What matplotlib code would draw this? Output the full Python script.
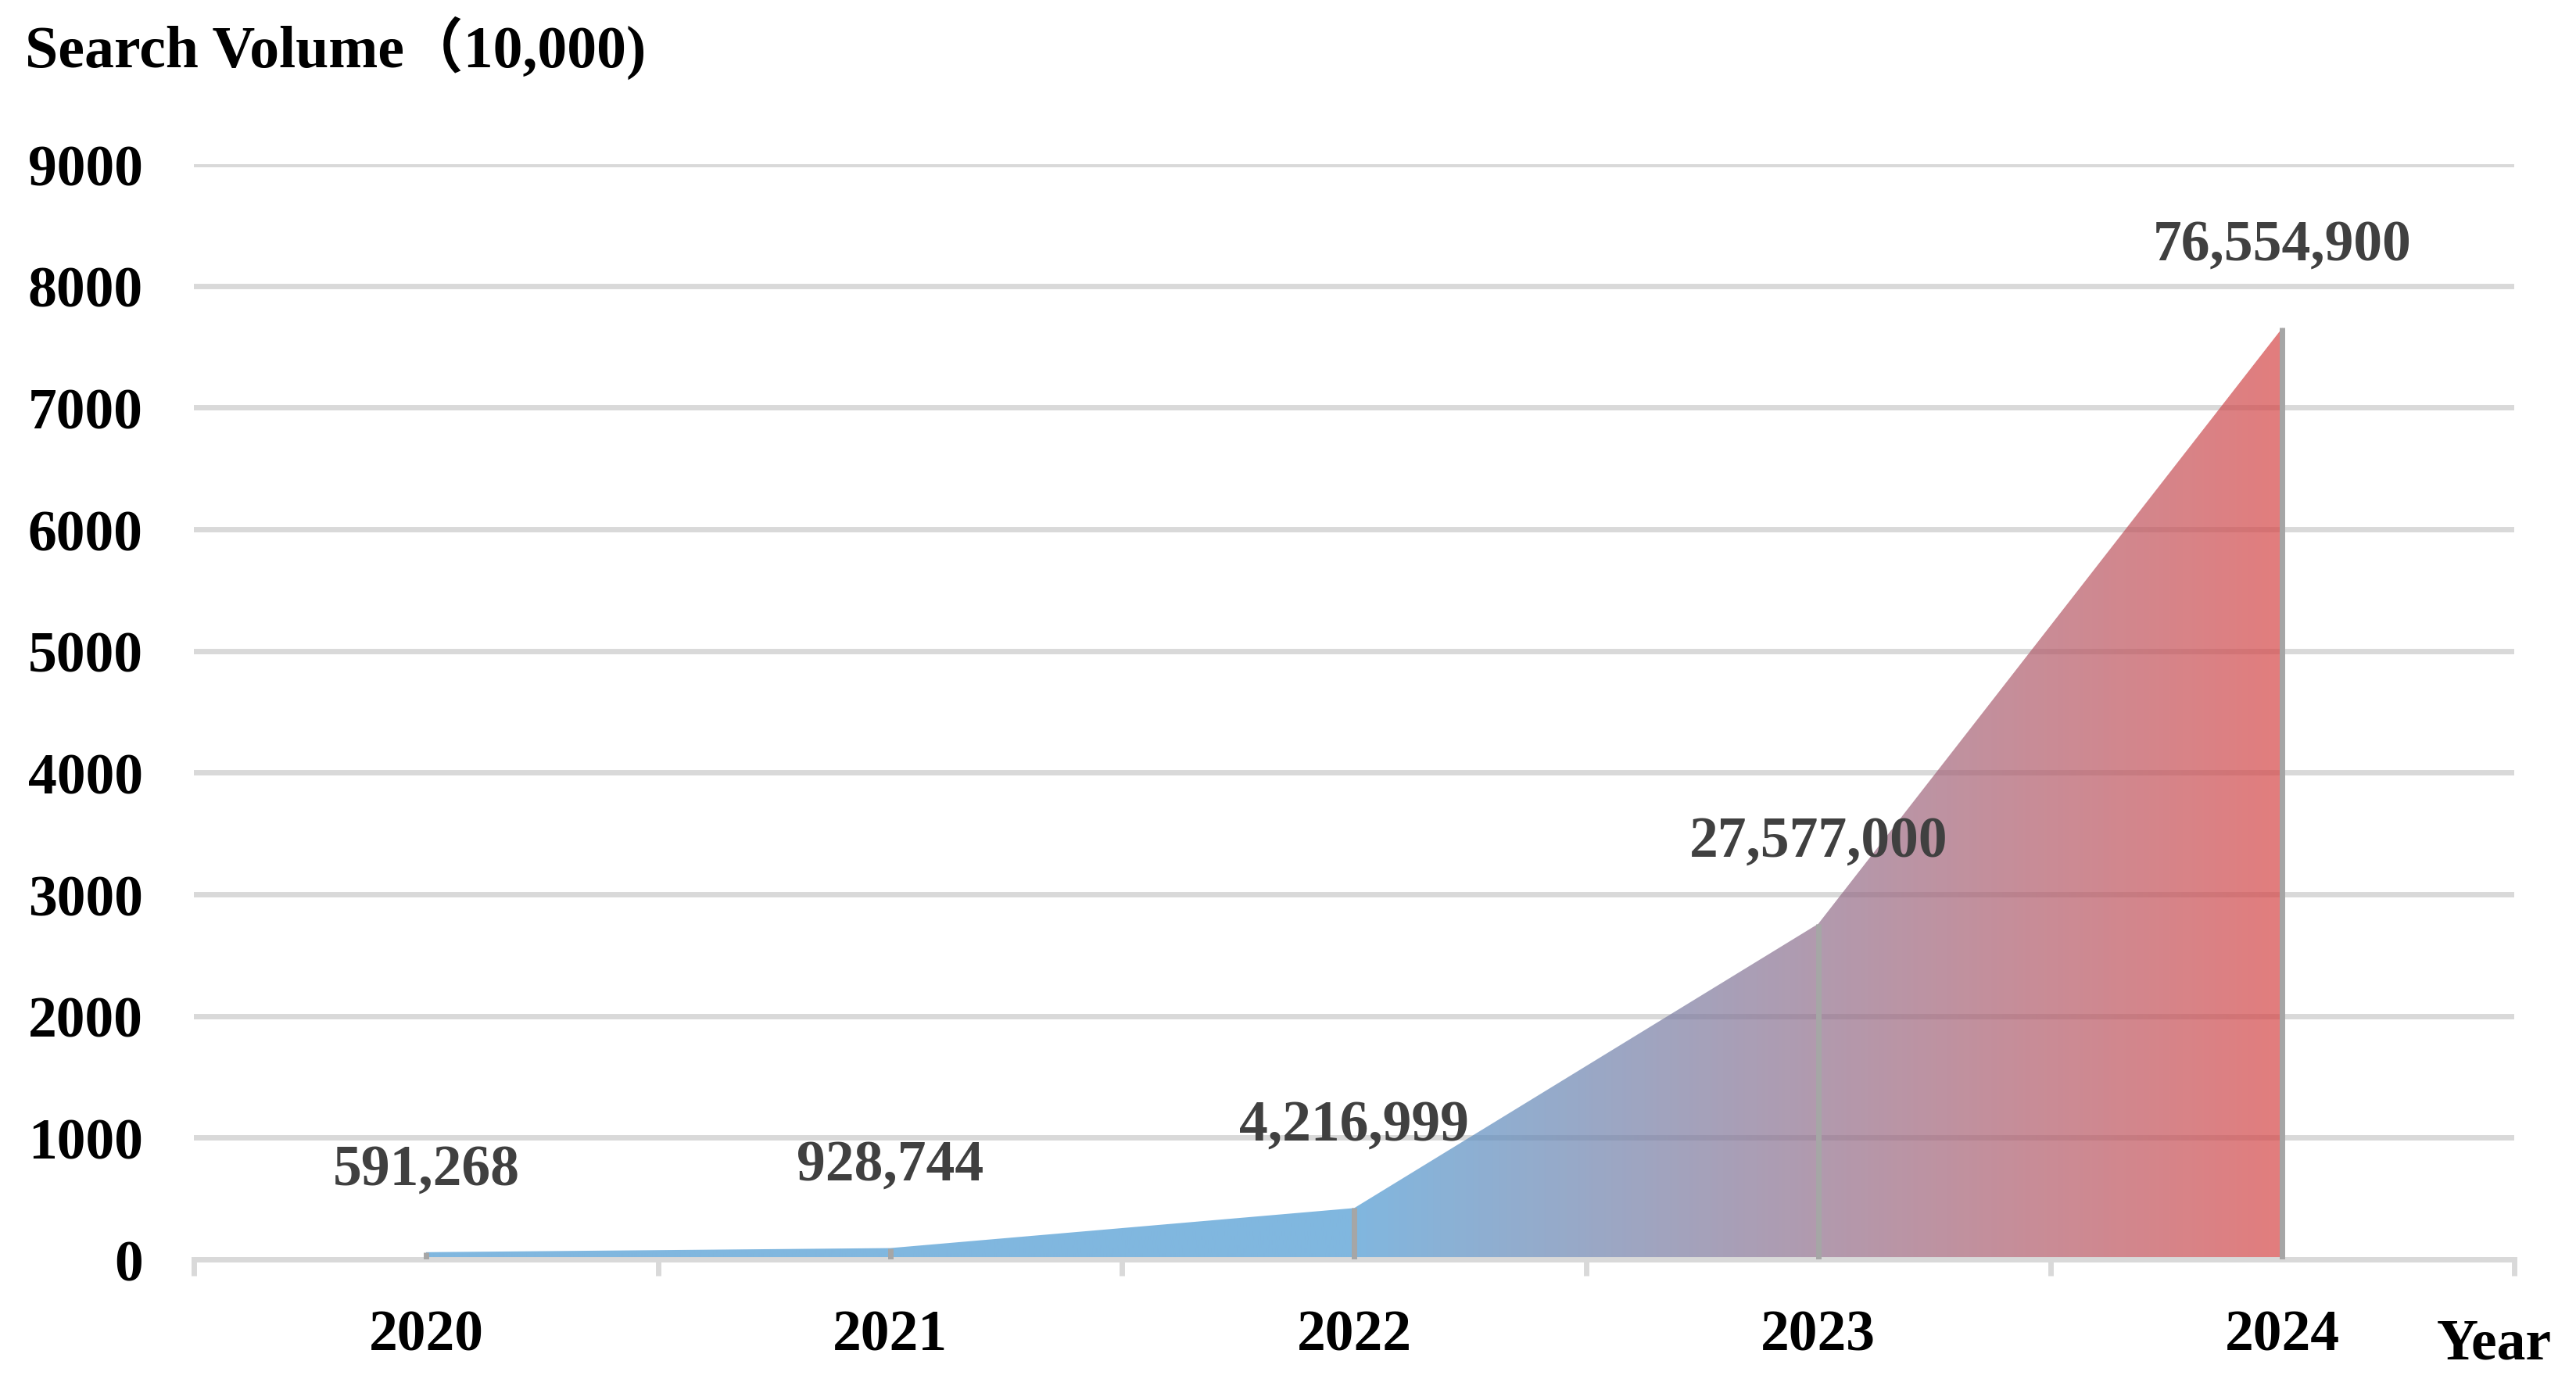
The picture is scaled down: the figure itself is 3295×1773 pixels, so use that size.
import matplotlib
matplotlib.use("Agg")
import matplotlib.pyplot as plt
import numpy as np
from matplotlib.colors import to_rgb

# Dati: volume di ricerca (unità: 10.000)
years = ["2020", "2021", "2022", "2023", "2024"]
volume = [59.1268, 92.8744, 421.6999, 2757.7, 7655.49]
labels = ["591,268", "928,744", "4,216,999", "27,577,000", "76,554,900"]
y_ticks = [0, 1000, 2000, 3000, 4000, 5000, 6000, 7000, 8000, 9000]

FONT = ["Liberation Serif", "Noto Sans CJK SC", "DejaVu Sans"]
plt.rcParams["font.family"] = FONT
plt.rcParams["font.weight"] = "bold"

grid_col = "#d9d9d9"
drop_col = "#a6a6a6"
blue = "#4a98d2"
red = "#d64545"
fill_alpha = 0.7

fig = plt.figure(figsize=(32.95, 17.74), dpi=100)
ax = fig.add_axes([0.0753, 0.0913, 0.9008, 0.7897])

x = np.arange(len(years))
ax.set_xlim(-0.5, len(years) - 0.5)
ax.set_ylim(0, 9000)

# Riempimento con gradiente orizzontale (blu -> rosso tra 2022 e 2024)
nx = 800
gx = np.linspace(-0.5, len(years) - 0.5, nx)
t = np.clip((gx - 2.0) / 2.0, 0, 1)
c0, c1 = np.array(to_rgb(blue)), np.array(to_rgb(red))
img = (c0[None, :] * (1 - t[:, None]) + c1[None, :] * t[:, None])[None, :, :]
im = ax.imshow(img, extent=[-0.5, len(years) - 0.5, 0, 9000], aspect="auto",
               origin="lower", alpha=fill_alpha, zorder=2, interpolation="bilinear")
clip = plt.Polygon(np.column_stack([np.r_[x, x[::-1]], np.r_[volume, np.zeros(len(x))]]),
                   closed=True, transform=ax.transData, fc="none", ec="none")
ax.add_patch(clip)
im.set_clip_path(clip)

# Linee verticali di riferimento
ax.vlines(x, 0, volume, colors=drop_col, lw=5, zorder=3)

# Etichette dei valori
for xi, v, lab in zip(x, volume, labels):
    ax.annotate(lab, (xi, v), xytext=(0, 76), textcoords="offset points",
                ha="center", va="center", fontsize=53, fontweight="bold",
                color="#404040", zorder=5)

# Griglia e assi
ax.set_axisbelow(True)
ax.yaxis.grid(True, color=grid_col, lw=5)
ax.set_yticks(y_ticks)
ax.set_yticklabels([str(v) for v in y_ticks])
ax.set_xticks(np.arange(-0.5, len(years), 1.0), minor=False)
ax.set_xticklabels([])
ax.set_xticks(x, minor=True)
ax.set_xticklabels(years, minor=True)
for s in ["top", "right", "left"]:
    ax.spines[s].set_visible(False)
ax.spines["bottom"].set_color(grid_col)
ax.spines["bottom"].set_linewidth(5)
ax.tick_params(axis="y", length=0, pad=47, labelsize=53)
ax.tick_params(axis="x", which="major", length=15, width=5, color=grid_col)
ax.tick_params(axis="x", which="minor", length=0, pad=46, labelsize=53)
for lab in ax.get_yticklabels() + ax.get_xticklabels(minor=True):
    lab.set_fontweight("bold")

fig.text(32 / 3295, 1 - 61 / 1774, "Search Volume（10,000)", ha="left", va="center",
         fontsize=54.5, fontweight="bold", family=FONT)
fig.text(3190 / 3295, 1 - 1721 / 1774, "Year", ha="center", va="center",
         fontsize=53, fontweight="bold", family=FONT)

fig.savefig("out.png", dpi=100)
